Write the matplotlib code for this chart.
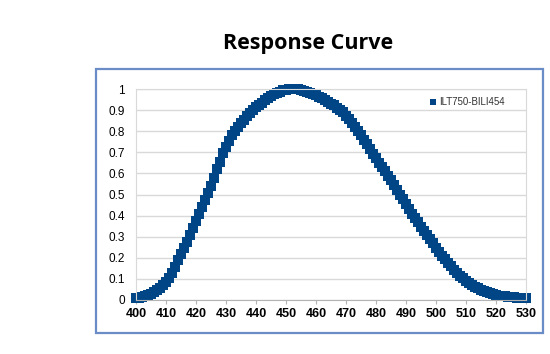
import matplotlib
matplotlib.use('Agg')
import matplotlib.pyplot as plt
from matplotlib.patches import Rectangle

# === DATA (1 nm steps) ===
wavelength = list(range(400, 531))
response = [
    0.008, 0.010, 0.013, 0.017, 0.022, 0.028, 0.036, 0.046, 0.058, 0.072,  # 400-409
    0.087, 0.105, 0.130, 0.158, 0.188, 0.217, 0.246, 0.275, 0.306, 0.339,  # 410-419
    0.373, 0.407, 0.440, 0.473, 0.507, 0.542, 0.580, 0.619, 0.655, 0.696,  # 420-429
    0.727, 0.755, 0.780, 0.800, 0.820, 0.838, 0.855, 0.871, 0.886, 0.900,  # 430-439
    0.913, 0.925, 0.936, 0.948, 0.958, 0.967, 0.975, 0.982, 0.988, 0.993,  # 440-449
    0.996, 0.998, 1.000, 1.000, 0.998, 0.995, 0.990, 0.985, 0.980, 0.975,  # 450-459
    0.970, 0.963, 0.956, 0.948, 0.940, 0.931, 0.922, 0.912, 0.902, 0.891,  # 460-469
    0.874, 0.857, 0.838, 0.819, 0.800, 0.780, 0.759, 0.737, 0.714, 0.692,  # 470-479
    0.671, 0.651, 0.631, 0.611, 0.590, 0.568, 0.546, 0.523, 0.500, 0.477,  # 480-489
    0.454, 0.431, 0.409, 0.388, 0.368, 0.348, 0.328, 0.308, 0.288, 0.268,  # 490-499
    0.248, 0.229, 0.210, 0.192, 0.175, 0.159, 0.144, 0.130, 0.116, 0.102,  # 500-509
    0.090, 0.080, 0.071, 0.063, 0.055, 0.048, 0.042, 0.037, 0.032, 0.028,  # 510-519
    0.024, 0.021, 0.019, 0.017, 0.015, 0.013, 0.012, 0.011, 0.010, 0.009,  # 520-529
    0.008,                                                                 # 530
]
series_name = 'ILT750-BILI454'
x_ticks = list(range(400, 531, 10))
y_ticks = [0, 0.1, 0.2, 0.3, 0.4, 0.5, 0.6, 0.7, 0.8, 0.9, 1]
y_labels = ['0', '0.1', '0.2', '0.3', '0.4', '0.5', '0.6', '0.7', '0.8', '0.9', '1']

# === STYLE ===
NAVY = '#004586'
GRID = '#d9d9d9'
FRAME = '#6a8cc7'

plt.rcParams['font.family'] = ['Liberation Sans', 'DejaVu Sans']

W, H = 550, 354
fig = plt.figure(figsize=(W / 100, H / 100), dpi=100)
fig.patch.set_facecolor('white')

# outer chart frame
fig.patches.append(Rectangle((96 / W, 1 - 333 / H), (543 - 96) / W, (333 - 69) / H,
                             transform=fig.transFigure, fill=False,
                             edgecolor=FRAME, linewidth=1.6))

fig.text(308 / W, 1 - 43 / H, 'Response Curve', ha='center', va='center',
         fontsize=15.5, fontweight='bold', family=['Open Sans', 'DejaVu Sans'])

ax = fig.add_axes([136 / W, 1 - 300 / H, (526 - 136) / W, (300 - 89) / H])
ax.plot(wavelength, response, linestyle='none', marker='s', markersize=6.8,
        color=NAVY, markeredgewidth=0, label=series_name, clip_on=False)

ax.set_xlim(400, 530)
ax.set_ylim(0, 1)
ax.set_xticks(x_ticks)
ax.set_xticklabels([str(t) for t in x_ticks], fontweight='bold', fontsize=9)
ax.set_yticks(y_ticks)
ax.set_yticklabels(y_labels, fontsize=8.5)
ax.grid(axis='y', color=GRID, linewidth=1)
ax.set_axisbelow(True)
for side in ['left', 'right', 'top']:
    ax.spines[side].set_color(GRID)
ax.spines['bottom'].set_color('#b3b3b3')
ax.tick_params(axis='x', length=3, color='#b3b3b3', pad=3)
ax.tick_params(axis='y', length=0, pad=8)

leg = ax.legend(loc='upper left', bbox_to_anchor=((426 - 136) / (526 - 136), 0.98),
                frameon=False, fontsize=7, handlelength=0.6, handletextpad=0.3,
                markerscale=0.7, borderaxespad=0)
for t in leg.get_texts():
    t.set_color('#333333')

fig.savefig('out.png', dpi=100, facecolor='white')
